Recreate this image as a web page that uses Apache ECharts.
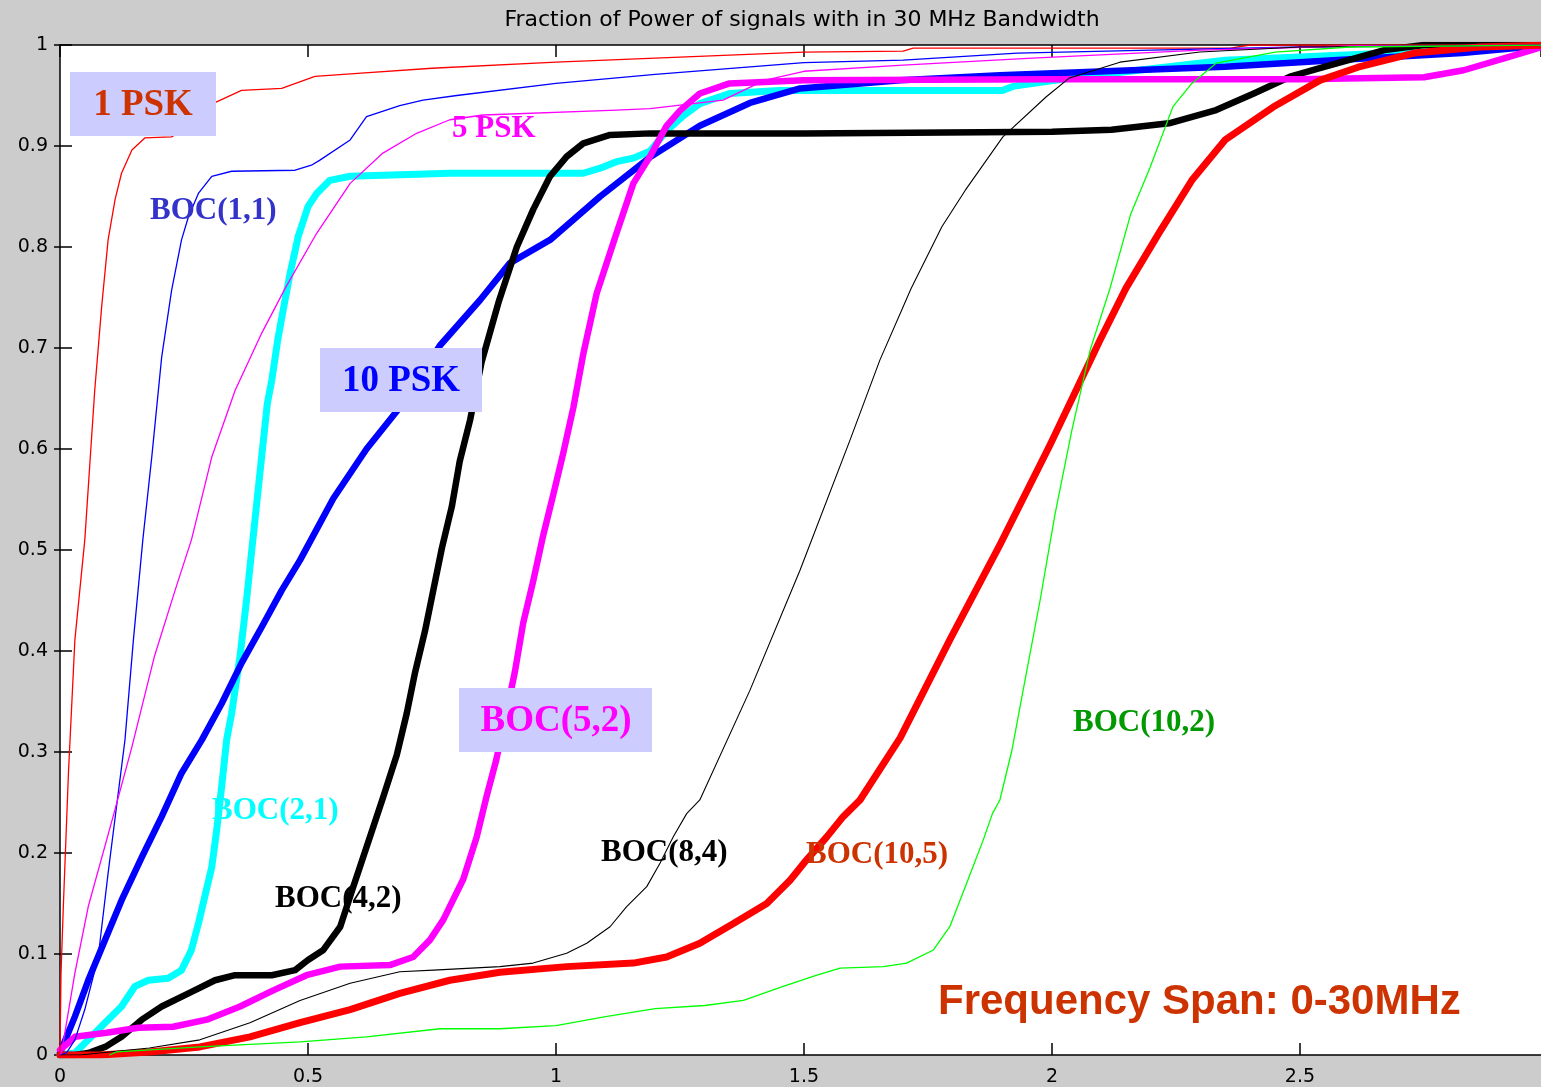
<!DOCTYPE html>
<html>
<head>
<meta charset="utf-8">
<script src="https://cdn.jsdelivr.net/npm/echarts@6/dist/echarts.min.js"></script>
<style>html,body{margin:0;padding:0;background:#cccccc;}#c{width:1541px;height:1087px;}</style>
</head>
<body>
<div id="c"></div>
<script>
// ---- data: [frequency (x10 MHz), fraction of power] ----
const xTicks = [0, 0.5, 1, 1.5, 2, 2.5];
const yTicks = [0, 0.1, 0.2, 0.3, 0.4, 0.5, 0.6, 0.7, 0.8, 0.9, 1];

const psk1 = [[0,0],[0.002,0.08],[0.0067,0.147],[0.017,0.279],[0.03,0.411],[0.05,0.51],[0.07,0.658],[0.084,0.741],[0.097,0.807],[0.111,0.847],[0.124,0.873],[0.145,0.896],[0.171,0.908],[0.225,0.909],[0.26,0.92],[0.3125,0.943],[0.366,0.955],[0.447,0.957],[0.514,0.969],[0.6,0.972],[0.75,0.977],[1.0,0.983],[1.25,0.988],[1.5,0.993],[1.7,0.994],[1.72,0.997],[2.36,0.997],[2.4,1],[3,1]];

const boc11 = [[0,0],[0.013,0.002],[0.03,0.015],[0.05,0.045],[0.077,0.097],[0.097,0.18],[0.114,0.246],[0.131,0.312],[0.148,0.411],[0.167,0.51],[0.185,0.592],[0.205,0.691],[0.225,0.757],[0.245,0.807],[0.259,0.83],[0.279,0.853],[0.306,0.87],[0.346,0.875],[0.474,0.876],[0.507,0.881],[0.524,0.886],[0.585,0.906],[0.618,0.929],[0.685,0.94],[0.732,0.9455],[0.8,0.95],[1.0,0.962],[1.2,0.971],[1.5,0.9825],[1.7,0.985],[1.93,0.992],[2.2,0.995],[2.5,0.998],[3,1]];

const psk5 = [[0,0],[0.003,0.002],[0.03,0.081],[0.057,0.147],[0.107,0.236],[0.145,0.305],[0.19,0.394],[0.232,0.46],[0.265,0.51],[0.306,0.592],[0.353,0.658],[0.407,0.715],[0.455,0.76],[0.5175,0.8136],[0.585,0.863],[0.651,0.893],[0.719,0.9126],[0.786,0.926],[0.853,0.9307],[1.122,0.9356],[1.19,0.937],[1.337,0.9455],[1.42,0.965],[1.5,0.974],[1.7,0.98],[1.96,0.987],[2.3,0.995],[2.6,0.999],[3,1]];

const boc21 = [[0,0],[0.03,0.002],[0.057,0.015],[0.091,0.032],[0.124,0.048],[0.151,0.068],[0.178,0.074],[0.218,0.076],[0.245,0.084],[0.265,0.104],[0.279,0.13],[0.292,0.157],[0.306,0.186],[0.316,0.223],[0.326,0.266],[0.336,0.312],[0.346,0.338],[0.363,0.395],[0.376,0.45],[0.386,0.497],[0.397,0.548],[0.408,0.599],[0.418,0.645],[0.427,0.668],[0.439,0.708],[0.452,0.743],[0.464,0.774],[0.48,0.81],[0.49,0.825],[0.5,0.84],[0.5175,0.853],[0.544,0.866],[0.585,0.87],[0.786,0.873],[1.055,0.873],[1.089,0.878],[1.122,0.8845],[1.156,0.888],[1.19,0.895],[1.223,0.915],[1.257,0.93],[1.29,0.942],[1.35,0.952],[1.45,0.955],[1.9,0.955],[1.921,0.959],[2.034,0.967],[2.349,0.985],[2.73,0.993],[3,1]];

const psk10 = [[0,0.002],[0.03,0.038],[0.057,0.074],[0.091,0.114],[0.124,0.153],[0.165,0.196],[0.205,0.236],[0.245,0.279],[0.286,0.312],[0.326,0.348],[0.366,0.388],[0.407,0.424],[0.447,0.46],[0.484,0.49],[0.551,0.551],[0.618,0.6],[0.685,0.641],[0.766,0.7025],[0.847,0.7475],[0.907,0.784],[0.988,0.807],[1.089,0.85],[1.19,0.889],[1.29,0.92],[1.391,0.9426],[1.492,0.957],[1.694,0.965],[1.895,0.97],[2.349,0.9785],[2.567,0.985],[2.827,0.992],[3,1]];

const boc42 = [[0,0],[0.03,0],[0.057,0.002],[0.091,0.008],[0.124,0.018],[0.165,0.035],[0.205,0.048],[0.259,0.061],[0.3125,0.074],[0.353,0.079],[0.427,0.079],[0.474,0.084],[0.5,0.094],[0.531,0.104],[0.565,0.127],[0.591,0.166],[0.625,0.216],[0.652,0.256],[0.679,0.297],[0.699,0.338],[0.716,0.379],[0.736,0.42],[0.753,0.461],[0.77,0.502],[0.79,0.543],[0.806,0.588],[0.827,0.629],[0.85,0.686],[0.884,0.745],[0.921,0.8],[0.954,0.837],[0.988,0.87],[1.0215,0.8895],[1.055,0.9026],[1.109,0.911],[1.19,0.9125],[1.5,0.9125],[2.0,0.914],[2.12,0.916],[2.236,0.9225],[2.331,0.9356],[2.407,0.952],[2.48,0.9686],[2.54,0.977],[2.67,0.995],[2.75,1],[3,1]];

const boc52 = [[0,0.005],[0.03,0.018],[0.094,0.022],[0.158,0.027],[0.228,0.028],[0.296,0.035],[0.363,0.048],[0.43,0.064],[0.497,0.079],[0.565,0.0875],[0.665,0.089],[0.712,0.097],[0.746,0.114],[0.773,0.134],[0.813,0.174],[0.84,0.2155],[0.86,0.256],[0.88,0.293],[0.917,0.379],[0.934,0.428],[0.954,0.469],[0.974,0.514],[0.9946,0.555],[1.0147,0.596],[1.035,0.641],[1.055,0.694],[1.082,0.754],[1.122,0.8136],[1.156,0.863],[1.19,0.89],[1.223,0.92],[1.25,0.935],[1.29,0.952],[1.35,0.962],[1.5,0.965],[2.0,0.966],[2.5,0.966],[2.75,0.968],[2.83,0.975],[2.92,0.988],[2.98,0.997],[3,1]];

const boc84 = [[0,0],[0.04,0],[0.18,0.007],[0.282,0.015],[0.383,0.032],[0.484,0.054],[0.585,0.071],[0.685,0.0825],[0.753,0.084],[0.887,0.0875],[0.954,0.091],[1.0215,0.1007],[1.062,0.1106],[1.109,0.127],[1.1425,0.147],[1.183,0.1667],[1.21,0.19],[1.2365,0.216],[1.2635,0.239],[1.29,0.2525],[1.391,0.361],[1.492,0.48],[1.593,0.609],[1.653,0.688],[1.716,0.759],[1.778,0.82],[1.825,0.856],[1.901,0.909],[1.988,0.9485],[2.034,0.967],[2.137,0.983],[2.298,0.993],[2.5,0.998],[3,1]];

const boc105 = [[0,0],[0.08,0],[0.18,0.003],[0.282,0.008],[0.383,0.018],[0.484,0.032],[0.585,0.045],[0.685,0.061],[0.786,0.074],[0.887,0.082],[1.0215,0.0875],[1.156,0.091],[1.223,0.097],[1.29,0.1106],[1.357,0.13],[1.425,0.15],[1.472,0.173],[1.505,0.193],[1.546,0.216],[1.579,0.236],[1.613,0.2525],[1.694,0.314],[1.794,0.411],[1.895,0.505],[1.996,0.604],[2.097,0.708],[2.149,0.759],[2.216,0.814],[2.282,0.866],[2.349,0.906],[2.446,0.9386],[2.54,0.965],[2.617,0.978],[2.73,0.992],[2.863,0.998],[3,1]];

const boc102 = [[0.1,0],[0.114,0.003],[0.282,0.008],[0.484,0.013],[0.618,0.018],[0.766,0.026],[0.887,0.026],[1.0,0.029],[1.1,0.038],[1.2,0.046],[1.3,0.049],[1.378,0.054],[1.458,0.068],[1.526,0.079],[1.573,0.086],[1.66,0.0875],[1.707,0.091],[1.761,0.104],[1.794,0.127],[1.828,0.17],[1.8615,0.213],[1.88,0.239],[1.895,0.2525],[1.9194,0.302],[1.9456,0.371],[1.976,0.45],[2.006,0.535],[2.0403,0.619],[2.077,0.698],[2.117,0.759],[2.159,0.833],[2.198,0.879],[2.244,0.939],[2.282,0.962],[2.331,0.982],[2.45,0.993],[2.6,0.998],[3,1]];

// visible part of the frequency axis (the original plot is cut at the right edge)
const xMin = 0, xMaxVisible = 2.986;

// ---- chart ----
const chart = echarts.init(document.getElementById('c'));
function line(name, data, color, width, z) {
  return { name, type: 'line', data, showSymbol: false, smooth: false,
    lineStyle: { color, width, join: 'round', cap: 'round' }, itemStyle: { color }, z, silent: true };
}
const axisCommon = {
  type: 'value', splitLine: { show: false },
  axisLine: { show: true, onZero: false, lineStyle: { color: '#000', width: 1.5 } },
  axisTick: { show: true, inside: true, length: 12, lineStyle: { color: '#000', width: 1.5 } }
};
const labelFont = { fontSize: 19, color: '#000', fontFamily: 'DejaVu Sans' };
const serif = 'Liberation Serif';
function tlabel(text, x, y, color, size, align) {
  return { type: 'text', z: 100, style: { text, x, y, fill: color, font: 'bold ' + size + 'px "' + serif + '"', textAlign: align || 'left', textVerticalAlign: 'middle' } };
}
function box(x, y, w, h) {
  return { type: 'rect', z: 99, shape: { x, y, width: w, height: h }, style: { fill: '#ccccff' } };
}
chart.setOption({
  backgroundColor: '#cccccc',
  animation: false,
  grid: { left: 60, top: 45, right: 0, height: 1010, show: true, backgroundColor: '#ffffff', borderWidth: 0 },
  xAxis: [
    Object.assign({}, axisCommon, { min: xMin, max: xMaxVisible, interval: 0.5, position: 'bottom',
      axisLabel: Object.assign({ margin: 13, showMaxLabel: false, formatter: v => xTicks.indexOf(v) >= 0 ? String(v) : '' }, labelFont) }),
    Object.assign({}, axisCommon, { min: xMin, max: xMaxVisible, interval: 0.5, position: 'top', axisLabel: { show: false } })
  ],
  yAxis: [
    Object.assign({}, axisCommon, { min: 0, max: 1, interval: 0.1, position: 'left',
      axisLabel: Object.assign({ margin: 12, formatter: v => { const r = Math.round(v * 10) / 10; return yTicks.indexOf(r) >= 0 ? String(r) : ''; } }, labelFont) }),
    Object.assign({}, axisCommon, { min: 0, max: 1, interval: 0.1, position: 'right',
      axisLine: { show: false }, axisTick: { show: true, inside: true, length: 6, lineStyle: { color: '#000', width: 1.5 } }, axisLabel: { show: false } })
  ],
  series: [
    line('BOC(2,1)', boc21, '#00ffff', 7, 2),
    line('10 PSK', psk10, '#0000ff', 6.5, 3),
    line('BOC(4,2)', boc42, '#000000', 6.5, 4),
    line('BOC(5,2)', boc52, '#ff00ff', 6.5, 5),
    line('BOC(10,5)', boc105, '#ff0000', 7, 6),
    line('1 PSK', psk1, '#ff0000', 1.3, 7),
    line('BOC(1,1)', boc11, '#0000ff', 1.3, 7),
    line('5 PSK', psk5, '#ff00ff', 1.3, 7),
    line('BOC(8,4)', boc84, '#000000', 1.1, 7),
    line('BOC(10,2)', boc102, '#00ff00', 1.3, 7)
  ],
  graphic: [
    { type: 'text', z: 100, style: { text: 'Fraction of Power of signals with in 30 MHz Bandwidth', x: 802, y: 20, fill: '#000', font: '22px "DejaVu Sans"', textAlign: 'center', textVerticalAlign: 'middle' } },
    box(70, 72, 146, 64),
    tlabel('1 PSK', 143, 105, '#cc3300', 37, 'center'),
    tlabel('BOC(1,1)', 150, 211, '#3333cc', 31),
    tlabel('5 PSK', 452, 129, '#ff00ff', 31),
    box(320, 348, 162, 64),
    tlabel('10 PSK', 401, 381, '#0000ff', 37, 'center'),
    box(459, 688, 193, 64),
    tlabel('BOC(5,2)', 556, 721, '#ff00ff', 37, 'center'),
    tlabel('BOC(2,1)', 212, 811, '#00ffff', 31),
    tlabel('BOC(4,2)', 275, 899, '#000000', 31),
    tlabel('BOC(8,4)', 601, 853, '#000000', 31),
    tlabel('BOC(10,5)', 806, 855, '#cc3300', 31),
    tlabel('BOC(10,2)', 1073, 723, '#009900', 31),
    { type: 'text', z: 100, style: { text: 'Frequency Span: 0-30MHz', x: 938, y: 1002, fill: '#cc3300', font: 'bold 42px "Liberation Sans"', textAlign: 'left', textVerticalAlign: 'middle' } }
  ]
});
</script>
</body>
</html>
